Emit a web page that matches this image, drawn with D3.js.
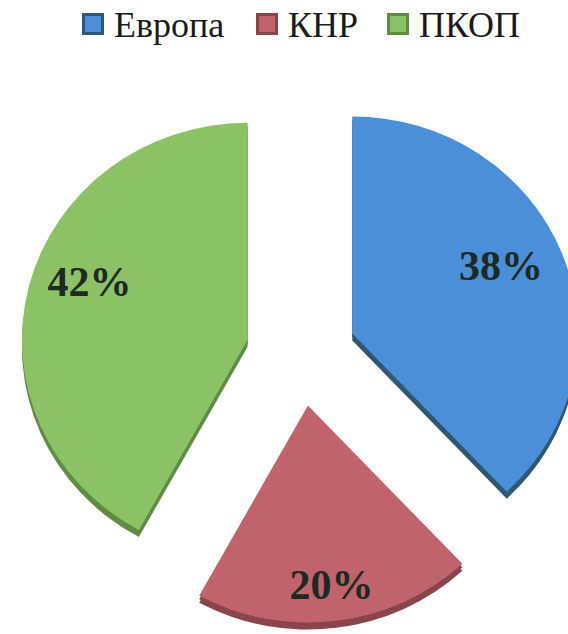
<!DOCTYPE html>
<html><head><meta charset="utf-8">
<script src="https://cdn.jsdelivr.net/npm/d3@7"></script>
<style>body{margin:0;background:#fff}svg{display:block}</style>
</head><body>
<script>
const categories = ["Европа", "КНР", "ПКОП"];
const values = [38, 20, 42];
const labels = ["38%", "20%", "42%"];
const colors = ["#4a8fd7", "#c0636c", "#8dc166"];
const edgeColors = ["#2f5672", "#8a454c", "#5f8c43"];

const W = 568, H = 634;
const cx = 301, cy = 353, R = 217, explode = 53, depth = 7, sx = 1.04;
// label placement (fraction of radius beyond explode, angle nudge in degrees)
const labelK = [0.73, 0.83, 0.75];
const labelNudge = [-3, 0, 5];
const serif = "'Liberation Serif', 'Times New Roman', 'DejaVu Serif', serif";

const svg = d3.select("body").append("svg").attr("width", W).attr("height", H);

const pie = d3.pie().sort(null).value(d => d.v);
const arcs = pie(values.map((v, i) => ({v, i})));
const arc = d3.arc().innerRadius(0).outerRadius(R);
const mid = d => (d.startAngle + d.endAngle) / 2;

const g = svg.append("g").attr("transform", `translate(${cx},${cy}) scale(${sx},1)`);

const slices = g.selectAll("g.slice").data(arcs).join("g")
  .attr("class", "slice")
  .attr("transform", d => `translate(${Math.sin(mid(d)) * explode},${-Math.cos(mid(d)) * explode})`);

// 3D side
[depth, depth / 2].forEach(off => {
  slices.append("path")
    .attr("d", arc)
    .attr("transform", `translate(0,${off})`)
    .attr("fill", d => edgeColors[d.data.i]);
});
// top face
slices.append("path")
  .attr("d", arc)
  .attr("fill", d => colors[d.data.i]);

// labels (unscaled)
const lpos = d => {
  const i = d.data.i;
  const a = mid(d) + labelNudge[i] * Math.PI / 180;
  const r = explode + R * labelK[i];
  return [Math.sin(a) * r * sx, -Math.cos(a) * r];
};
svg.append("g").attr("transform", `translate(${cx},${cy})`)
  .selectAll("text").data(arcs).join("text")
  .attr("x", d => lpos(d)[0])
  .attr("y", d => lpos(d)[1])
  .attr("dy", "0.35em")
  .attr("text-anchor", "middle")
  .style("font-family", serif)
  .attr("font-weight", "bold")
  .attr("font-size", 42)
  .attr("fill", "#1d2a22")
  .text(d => labels[d.data.i]);

// legend
const legend = svg.append("g").attr("transform", "translate(82,13)");
const itemX = [0, 174, 305];
const item = legend.selectAll("g").data(categories).join("g")
  .attr("transform", (d, i) => `translate(${itemX[i]},0)`);
item.append("rect").attr("width", 22).attr("height", 22)
  .attr("fill", (d, i) => edgeColors[i]);
item.append("rect").attr("x", 3).attr("y", 3).attr("width", 16).attr("height", 16)
  .attr("fill", (d, i) => colors[i]);
item.append("text")
  .attr("x", 32).attr("y", 24)
  .style("font-family", serif)
  .attr("font-size", 36)
  .attr("fill", "#1a1a1a")
  .text(d => d);
</script>
</body></html>
